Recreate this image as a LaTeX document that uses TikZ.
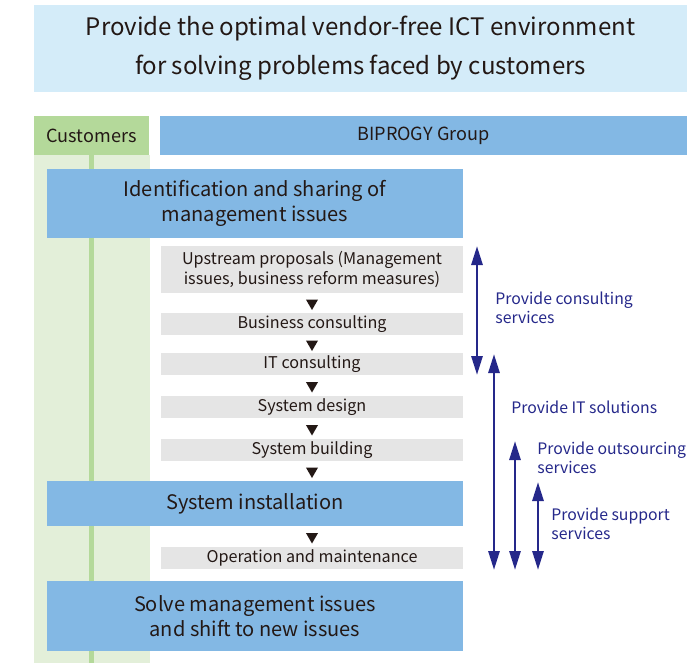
\documentclass[tikz,border=0pt]{standalone}
\usepackage{fontspec}
\setmainfont{Noto Sans CJK JP}
\usetikzlibrary{shapes.geometric,arrows.meta,calc}
\definecolor{titlebg}{HTML}{D4ECF9}
\definecolor{custgreen}{HTML}{B4D99A}
\definecolor{custlight}{HTML}{E3EFD9}
\definecolor{groupblue}{HTML}{83B8E4}
\definecolor{greybg}{HTML}{E5E5E5}
\definecolor{inkdark}{HTML}{231815}
\definecolor{navy}{HTML}{25288A}

\begin{document}
\begin{tikzpicture}[x=0.02cm,y=-0.02cm,
    box/.style={inner sep=0pt,text=inkdark,align=center},
    mainbox/.style={box,fill=groupblue,minimum width=8.32cm,font=\fontsize{11.4}{14.2}\selectfont},
    greybox/.style={box,fill=greybg,minimum width=6.04cm,minimum height=0.44cm,font=\fontsize{9.2}{11.9}\selectfont},
    tri/.style={regular polygon,regular polygon sides=3,shape border rotate=180,fill=inkdark,inner sep=0pt,minimum size=0.28cm},
    svc/.style={navy,line width=1.6pt,>={Triangle[length=0.38cm,width=0.22cm]},<->},
    svclabel/.style={anchor=west,align=left,text=navy,inner sep=0pt,font=\fontsize{9}{10.8}\selectfont}]
    \useasboundingbox (0,0) rectangle (687,663);
    \node[box,fill=titlebg,minimum width=13.06cm,minimum height=1.74cm,font=\fontsize{13.7}{22}\selectfont] (title) at (360.5,48.5)
        {Provide the optimal vendor-free ICT environment\\for solving problems faced by customers};
    \fill[custlight] (34,155) rectangle (150,663);
    \node[box,fill=custgreen,minimum width=2.3cm,minimum height=0.78cm,font=\fontsize{10.3}{12}\selectfont] (cust) at (91.5,135.5) {Customers};
    \node[box,fill=groupblue,minimum width=10.54cm,minimum height=0.78cm,font=\fontsize{10.3}{12}\selectfont] (group) at (423.5,135.5) {BIPROGY Group};
    \coordinate (bottom) at (0,663);
    \draw[custgreen,line width=2.8pt] (cust.south) -- (cust.south |- bottom);

    \node[mainbox,minimum height=1.38cm] (ident) at (255,203.5) {Identification and sharing of\\management issues};
    \node[greybox,minimum height=0.94cm] (up) at (312,269.5) {Upstream proposals (Management\\issues, business reform measures)};
    \node[greybox] (bcons) at (312,324) {Business consulting};
    \node[greybox] (itcons) at (312,364) {IT consulting};
    \node[greybox] (sdes) at (312,407) {System design};
    \node[greybox] (sbuild) at (312,450) {System building};
    \node[mainbox,minimum height=0.9cm] (sinst) at (255,503.5) {System installation};
    \node[greybox] (opm) at (312,558) {Operation and maintenance};
    \node[mainbox,minimum height=1.4cm] (solve) at (255,616) {Solve management issues\\and shift to new issues};

    \foreach \a/\b in {up/bcons,bcons/itcons,itcons/sdes,sdes/sbuild,sbuild/sinst,sinst/opm}
        \node[tri] at ($(\a.south -| up)!0.5!(\b.north -| up)$) {};

    \coordinate (constop) at (477,246);
    \coordinate (consbot) at (477,375);
    \coordinate (ittop) at (494,354);
    \coordinate (itbot) at (494,570);
    \coordinate (outtop) at (515,441);
    \coordinate (outbot) at (515,570);
    \coordinate (suptop) at (538,482);
    \coordinate (supbot) at (538,570);
    \draw[svc] (constop) -- (consbot);
    \draw[svc] (ittop) -- (itbot);
    \draw[svc] (outtop) -- (outbot);
    \draw[svc] (suptop) -- (supbot);
    \node[svclabel] (conslabel) at (495,308) {Provide consulting\\services};
    \node[svclabel] (itlabel) at (511,407) {Provide IT solutions};
    \node[svclabel] (outlabel) at (537,458) {Provide outsourcing\\services};
    \node[svclabel] (suplabel) at (551,524) {Provide support\\services};
    % \draw[red] (sinst.east) -- (suptop);
\end{tikzpicture}
\end{document}
